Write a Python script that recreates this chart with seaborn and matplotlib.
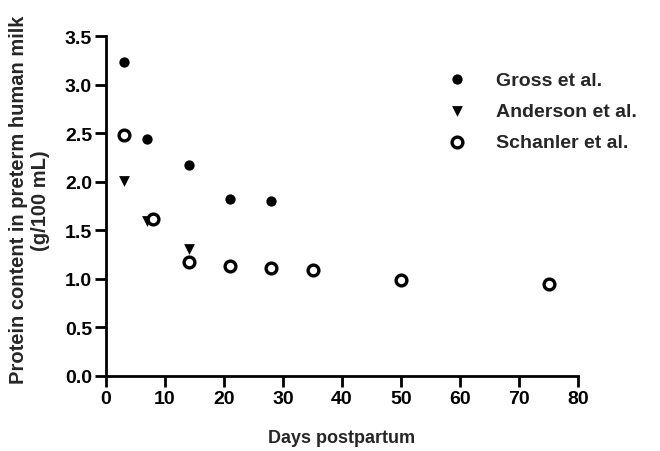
import matplotlib
matplotlib.use("Agg")
import matplotlib.pyplot as plt
import seaborn as sns
import pandas as pd

gross_days = [3, 7, 14, 21, 28]
gross_protein = [3.23, 2.44, 2.17, 1.82, 1.80]
anderson_days = [3, 7, 14]
anderson_protein = [2.01, 1.60, 1.31]
schanler_days = [3, 8, 14, 21, 28, 35, 50, 75]
schanler_protein = [2.48, 1.62, 1.17, 1.13, 1.11, 1.09, 0.99, 0.95]

sns.set_theme(style="ticks")
plt.rcParams['font.family'] = ['Liberation Sans', 'DejaVu Sans']
plt.rcParams['font.weight'] = 'bold'

FS = 14

fig = plt.figure(figsize=(6.6, 4.52), dpi=100)
ax = fig.add_axes([106/660, 75/452, 472/660, 340/452])

df_g = pd.DataFrame({"x": gross_days, "y": gross_protein})
df_a = pd.DataFrame({"x": anderson_days, "y": anderson_protein})
df_s = pd.DataFrame({"x": schanler_days, "y": schanler_protein})

sns.scatterplot(data=df_g, x="x", y="y", ax=ax, marker="o", s=55, color="black",
                edgecolor="black", linewidth=0, label="Gross et al.", zorder=3)
sns.scatterplot(data=df_a, x="x", y="y", ax=ax, marker="v", s=60, color="black",
                edgecolor="black", linewidth=0, label="Anderson et al.", zorder=3)
sns.scatterplot(data=df_s, x="x", y="y", ax=ax, marker="o", s=60, facecolor="white",
                edgecolor="black", linewidth=2.4, label="Schanler et al.", zorder=4)

ax.set_xlim(0, 80)
ax.set_ylim(0, 3.5)
ax.set_xticks(range(0, 81, 10))
yt = [0, 0.5, 1.0, 1.5, 2.0, 2.5, 3.0, 3.5]
ax.set_yticks(yt)
ax.set_yticklabels([f"{v:.1f}" for v in yt])
sns.despine(ax=ax)
for s in ["left", "bottom"]:
    ax.spines[s].set_linewidth(2)
    ax.spines[s].set_color("black")
ax.tick_params(axis="both", width=2, length=8, direction="out", labelsize=FS,
               color="black", labelcolor="black", pad=2)
for lab in ax.get_xticklabels() + ax.get_yticklabels():
    lab.set_fontweight("bold")

ax.set_xlabel("Days postpartum", fontsize=13, fontweight="bold", labelpad=16)
ax.set_ylabel("Protein content in preterm human milk\n(g/100 mL)", fontsize=14.5,
              fontweight="bold", linespacing=1.2)
ax.yaxis.set_label_coords(-0.118, 0.52)

leg = ax.legend(loc="upper left", bbox_to_anchor=(0.687, 0.92), frameon=False,
                fontsize=FS, handletextpad=1.0, labelspacing=0.7, markerscale=1.0,
                borderaxespad=0)
for t in leg.get_texts():
    t.set_fontweight("bold")

fig.savefig("out.png", dpi=100)
